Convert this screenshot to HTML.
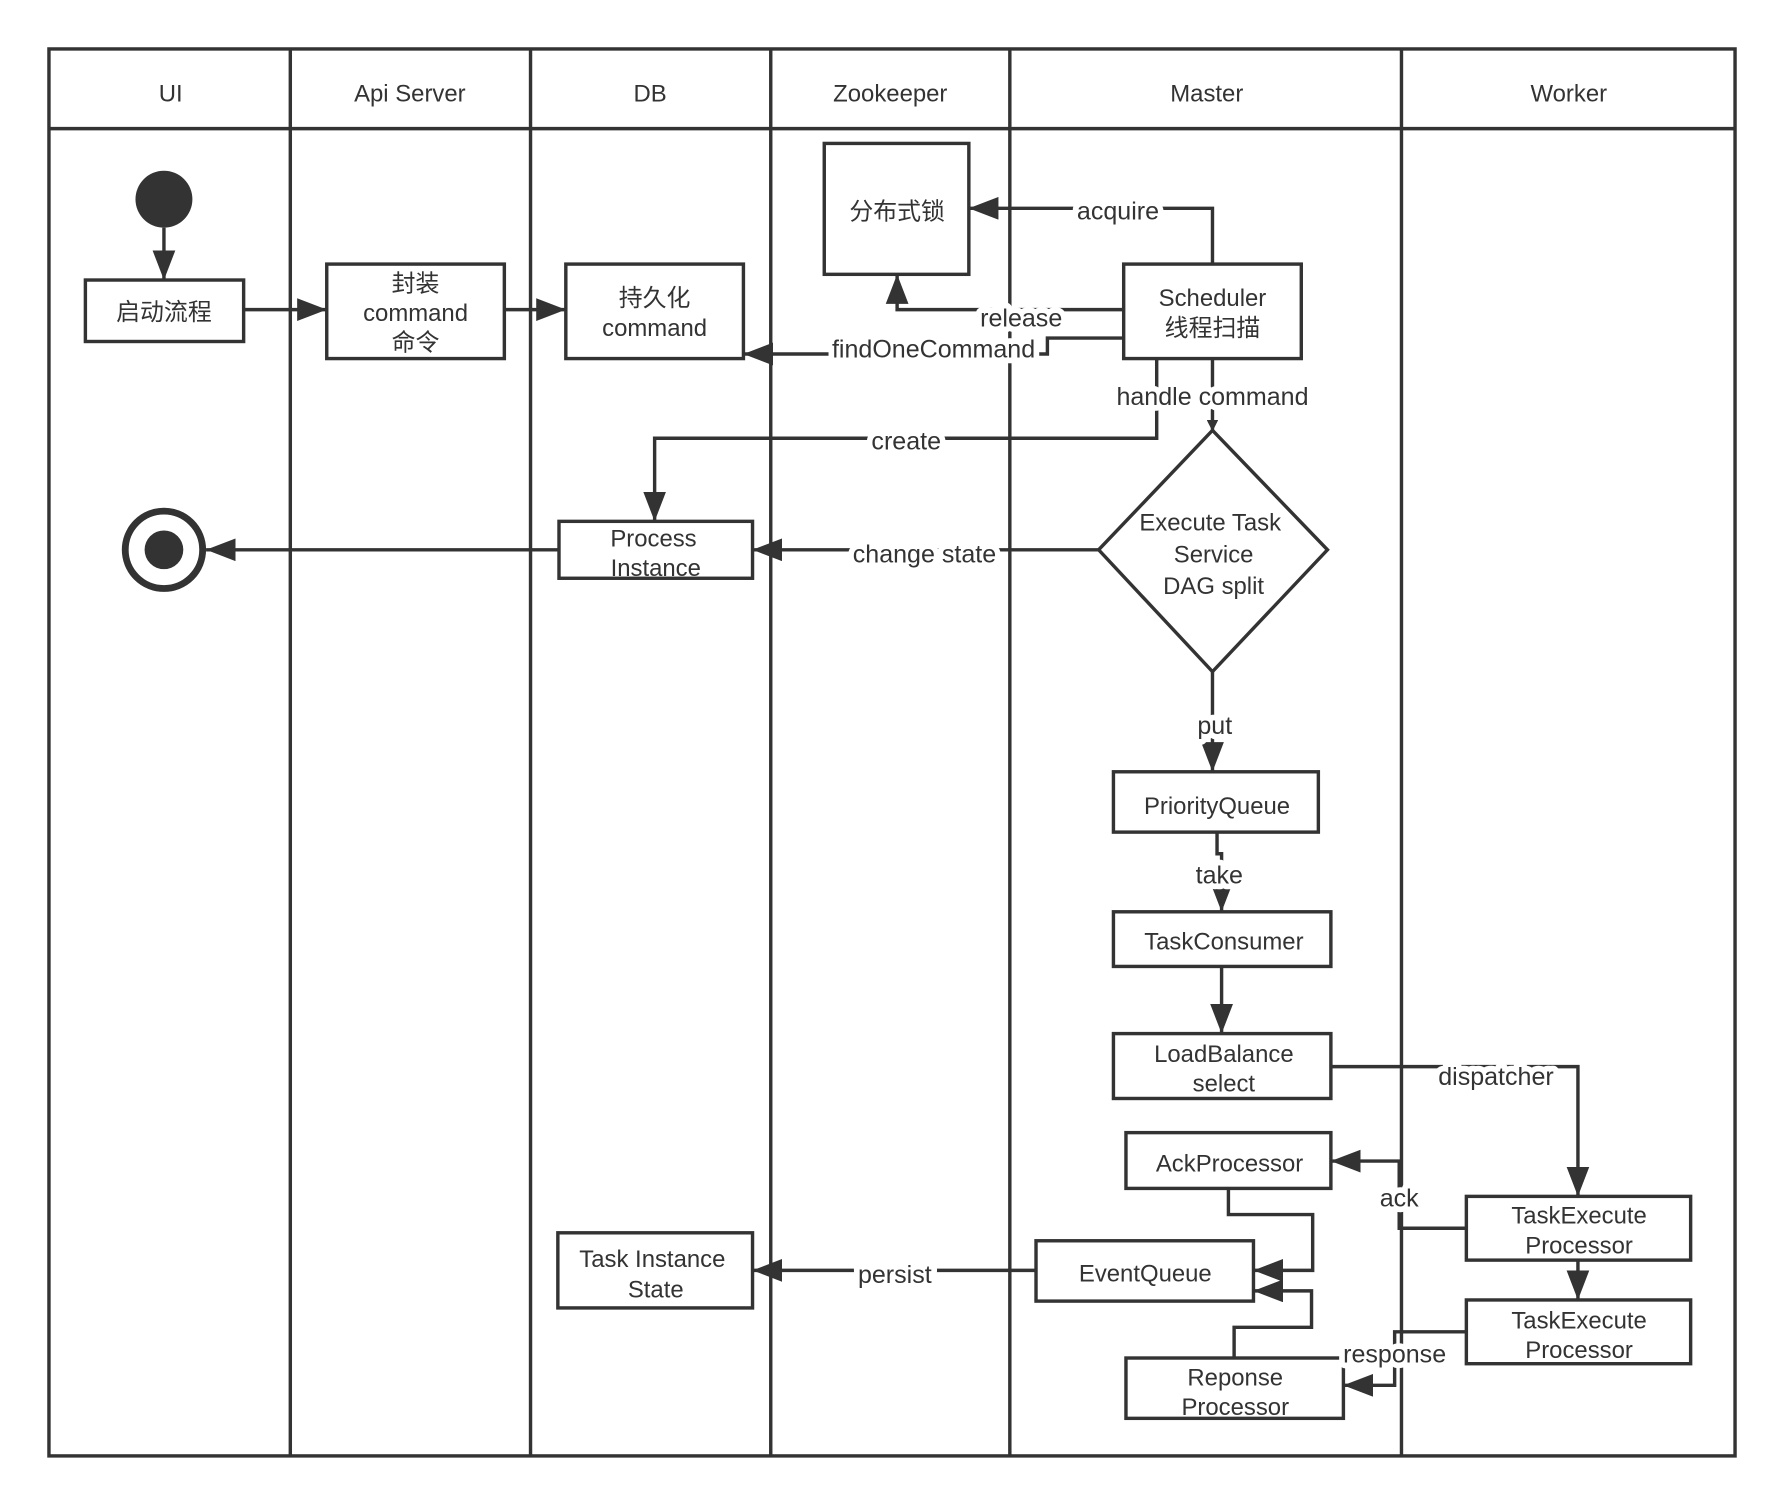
<!DOCTYPE html>
<html><head><meta charset="utf-8"><style>
html,body{margin:0;padding:0;background:#fff}
svg{display:block}
text{font-family:"Liberation Sans","Noto Sans CJK SC",sans-serif;fill:#333;text-anchor:middle;font-size:21px}
.lbl{paint-order:stroke;stroke:#fff;stroke-width:10px;stroke-linejoin:round;font-size:22px}
.b{fill:#fff;stroke:#333;stroke-width:3}
.l{fill:none;stroke:#333;stroke-width:3}
</style></head><body>
<svg width="1784" height="1506" viewBox="0 0 1567 1323" preserveAspectRatio="none" xmlns="http://www.w3.org/2000/svg">
<defs><marker id="a" markerWidth="10" markerHeight="10" refX="9" refY="5" orient="auto" markerUnits="userSpaceOnUse" viewBox="0 0 10 10"><path d="M0,0 L10,5 L0,10z" fill="#333"/></marker>
<marker id="A" markerWidth="26" markerHeight="20" refX="26" refY="10" orient="auto" markerUnits="userSpaceOnUse"><path d="M0,0 L26,10 L0,20z" fill="#333"/></marker></defs>
<rect x="43" y="43" width="1481" height="1236" class="l"/>
<line x1="43" y1="113" x2="1524" y2="113" class="l"/>
<g class="l"><line x1="255" y1="43" x2="255" y2="1279"/><line x1="466" y1="43" x2="466" y2="1279"/><line x1="677" y1="43" x2="677" y2="1279"/><line x1="887" y1="43" x2="887" y2="1279"/><line x1="1231" y1="43" x2="1231" y2="1279"/></g>
<g style="font-size:22px"><text x="150" y="89">UI</text><text x="360" y="89">Api Server</text><text x="571" y="89">DB</text><text x="782" y="89">Zookeeper</text><text x="1060" y="89">Master</text><text x="1378" y="89">Worker</text></g>

<circle cx="144" cy="175" r="25" fill="#333"/>
<line x1="144" y1="200" x2="144" y2="246" class="l" marker-end="url(#A)"/>
<rect x="75" y="246" width="139" height="54" class="b"/><text x="144" y="281">启动流程</text>
<line x1="214" y1="272" x2="287" y2="272" class="l" marker-end="url(#A)"/>
<rect x="287" y="232" width="156" height="83" class="b"/><text x="365" y="256">封装</text><text x="365" y="282">command</text><text x="365" y="308">命令</text>
<line x1="443" y1="272" x2="497" y2="272" class="l" marker-end="url(#A)"/>
<rect x="497" y="232" width="156" height="83" class="b"/><text x="575" y="269">持久化</text><text x="575" y="295">command</text>
<rect x="724" y="126" width="127" height="115" class="b"/><text x="788" y="193">分布式锁</text>
<rect x="987" y="232" width="156" height="83" class="b"/><text x="1065" y="269">Scheduler</text><text x="1065" y="295">线程扫描</text>

<path d="M1065,232 V183 H851" class="l" marker-end="url(#A)"/><text x="982" y="193" class="lbl">acquire</text>
<path d="M987,272 H788 V241" class="l" marker-end="url(#A)"/><text x="897" y="287" class="lbl">release</text>
<path d="M987,297 H920 V311 H653" class="l" marker-end="url(#A)"/><text x="820" y="314" class="lbl">findOneCommand</text>
<path d="M1016,315 V385 H575 V458" class="l" marker-end="url(#A)"/><text x="796" y="395" class="lbl">create</text>
<path d="M1065,315 V378" class="l" marker-end="url(#a)"/><text x="1065" y="356" class="lbl">handle command</text>
<polygon points="1065,378 1166,483 1065,590 965,483" class="b"/>
<text x="1063" y="466">Execute Task</text><text x="1066" y="494">Service</text><text x="1066" y="522">DAG split</text>
<path d="M965,483 H661" class="l" marker-end="url(#A)"/><text x="812" y="494" class="lbl">change state</text>
<rect x="491" y="458" width="170" height="50" class="b"/><text x="574" y="480">Process</text><text x="576" y="506">Instance</text>
<path d="M491,483 H181" class="l" marker-end="url(#A)"/>
<circle cx="144" cy="483" r="34" fill="#fff" stroke="#333" stroke-width="6"/><circle cx="144" cy="483" r="17" fill="#333"/>
<path d="M1065,590 V678" class="l" marker-end="url(#A)"/><text x="1067" y="645" class="lbl">put</text>
<rect x="978" y="678" width="180" height="53" class="b"/><text x="1069" y="715">PriorityQueue</text>
<path d="M1069,731 V750 H1073 V801" class="l" marker-end="url(#A)"/><text x="1071" y="776" class="lbl">take</text>
<rect x="978" y="801" width="191" height="48" class="b"/><text x="1075" y="834">TaskConsumer</text>
<path d="M1073,849 V908" class="l" marker-end="url(#A)"/>
<rect x="978" y="908" width="191" height="57" class="b"/><text x="1075" y="933">LoadBalance</text><text x="1075" y="959">select</text>
<path d="M1169,937 H1386 V1051" class="l" marker-end="url(#A)"/><text x="1314" y="953" class="lbl">dispatcher</text>
<rect x="1288" y="1051" width="197" height="56" class="b"/><text x="1387" y="1075">TaskExecute</text><text x="1387" y="1101">Processor</text>
<path d="M1386,1107 V1142" class="l" marker-end="url(#A)"/>
<rect x="1288" y="1142" width="197" height="56" class="b"/><text x="1387" y="1167">TaskExecute</text><text x="1387" y="1193">Processor</text>
<rect x="989" y="995" width="180" height="49" class="b"/><text x="1080" y="1029">AckProcessor</text>
<path d="M1288,1079 H1229 V1020 H1169" class="l" marker-end="url(#A)"/><text x="1229" y="1060" class="lbl">ack</text>
<rect x="910" y="1090" width="191" height="53" class="b"/><text x="1006" y="1126">EventQueue</text>
<path d="M1079,1044 V1067 H1153 V1116 H1101" class="l" marker-end="url(#A)"/>
<rect x="989" y="1193" width="191" height="53" class="b"/><text x="1085" y="1217">Reponse</text><text x="1085" y="1243">Processor</text>
<path d="M1084,1193 V1166 H1152 V1134 H1101" class="l" marker-end="url(#A)"/>
<path d="M1288,1170 H1225 V1217 H1180" class="l" marker-end="url(#A)"/><text x="1225" y="1197" class="lbl">response</text>
<path d="M910,1116 H661" class="l" marker-end="url(#A)"/><text x="786" y="1127" class="lbl">persist</text>
<rect x="490" y="1083" width="171" height="66" class="b"/><text x="573" y="1113">Task Instance</text><text x="576" y="1140">State</text>
</svg>
</body></html>
